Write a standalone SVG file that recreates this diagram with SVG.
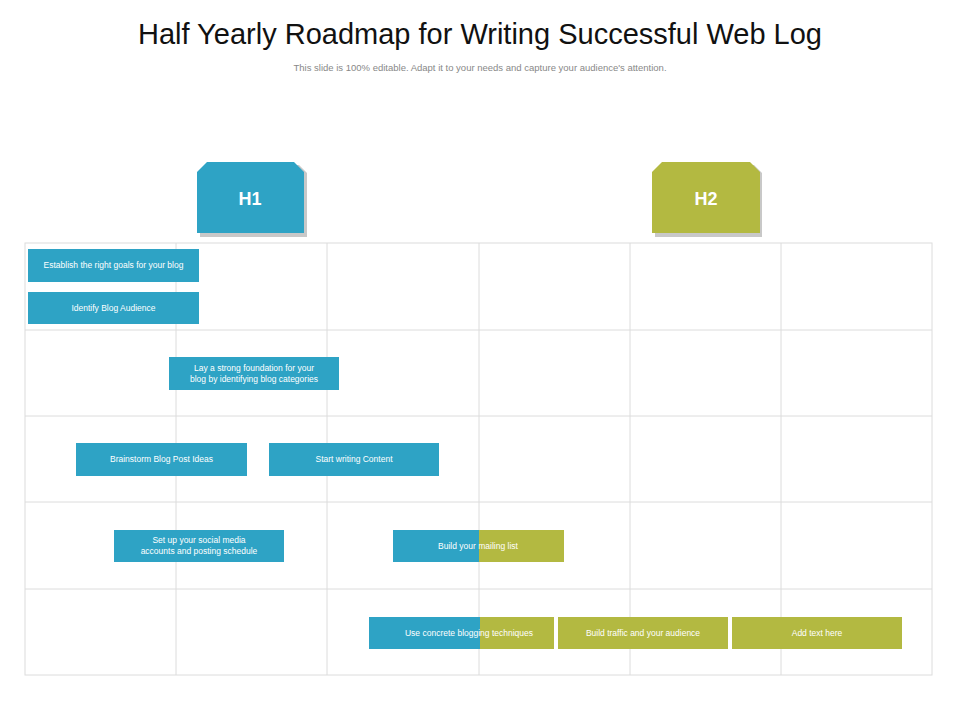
<svg xmlns="http://www.w3.org/2000/svg" width="960" height="720" viewBox="0 0 960 720">
<defs>
<style>
.b{fill:#2ea3c5}.g{fill:#b3b941}
.t{font-family:"Liberation Sans",Arial,sans-serif;font-size:8.5px;fill:#fff;text-anchor:middle}
.grid line{stroke:#dcdcdc;stroke-width:1}
.sh{fill:#c8c8c8}
</style>
</defs>
<rect width="960" height="720" fill="#fff"/>
<text x="480" y="44" font-family="Liberation Sans,Arial,sans-serif" font-size="29" text-anchor="middle" fill="#111">Half Yearly Roadmap for Writing Successful Web Log</text>
<text x="480" y="71" font-family="Liberation Sans,Arial,sans-serif" font-size="9.5" text-anchor="middle" fill="#888">This slide is 100% editable. Adapt it to your needs and capture your audience's attention.</text>
<g class="grid">
<rect x="25" y="243" width="907" height="432" fill="none" stroke="#dcdcdc"/>
<line x1="176" y1="243" x2="176" y2="675"/><line x1="327" y1="243" x2="327" y2="675"/><line x1="479" y1="243" x2="479" y2="675"/><line x1="630" y1="243" x2="630" y2="675"/><line x1="781" y1="243" x2="781" y2="675"/>
<line x1="25" y1="330" x2="932" y2="330"/><line x1="25" y1="416" x2="932" y2="416"/><line x1="25" y1="502" x2="932" y2="502"/><line x1="25" y1="589" x2="932" y2="589"/>
</g>
<g id="h1">
<path class="sh" d="M210,165 H299 L307,173 V237 H200 V175 Z"/>
<path class="b" d="M207,162 H294 L304,172 V233 H197 V172 Z"/>
<text x="250" y="205" font-family="Liberation Sans,Arial,sans-serif" font-size="18" font-weight="bold" fill="#fff" text-anchor="middle">H1</text>
</g>
<g id="h2">
<path class="sh" d="M665,165 H754 L762,173 V237 H655 V175 Z"/>
<path class="g" d="M662,162 H750 L760,172 V233 H652 V172 Z"/>
<text x="706" y="205" font-family="Liberation Sans,Arial,sans-serif" font-size="18" font-weight="bold" fill="#fff" text-anchor="middle">H2</text>
</g>
<g id="t1"><rect class="b" x="28" y="249" width="171" height="33"/><text class="t" x="113.5" y="268">Establish the right goals for your blog</text></g>
<g id="t2"><rect class="b" x="28" y="292" width="171" height="32"/><text class="t" x="113.5" y="311">Identify Blog Audience</text></g>
<g id="t3"><rect class="b" x="169" y="357" width="170" height="33"/><text class="t" x="254" y="371">Lay a strong foundation for your</text><text class="t" x="254" y="382">blog by identifying blog categories</text></g>
<g id="t4"><rect class="b" x="76" y="443" width="171" height="33"/><text class="t" x="161.5" y="462">Brainstorm Blog Post Ideas</text></g>
<g id="t5"><rect class="b" x="269" y="443" width="170" height="33"/><text class="t" x="354" y="462">Start writing Content</text></g>
<g id="t6"><rect class="b" x="114" y="530" width="170" height="32"/><text class="t" x="199" y="543">Set up your social media</text><text class="t" x="199" y="554">accounts and posting schedule</text></g>
<g id="t7"><rect class="b" x="393" y="530" width="86" height="32"/><rect class="g" x="479" y="530" width="85" height="32"/><text class="t" x="478" y="549">Build your mailing list</text></g>
<g id="t8"><rect class="b" x="369" y="617" width="111" height="32"/><rect class="g" x="480" y="617" width="74" height="32"/><text class="t" x="469" y="636">Use concrete blogging techniques</text></g>
<g id="t9"><rect class="g" x="558" y="617" width="170" height="32"/><text class="t" x="643" y="636">Build traffic and your audience</text></g>
<g id="t10"><rect class="g" x="732" y="617" width="170" height="32"/><text class="t" x="817" y="636">Add text here</text></g>
<g id="connectors"/>
</svg>
